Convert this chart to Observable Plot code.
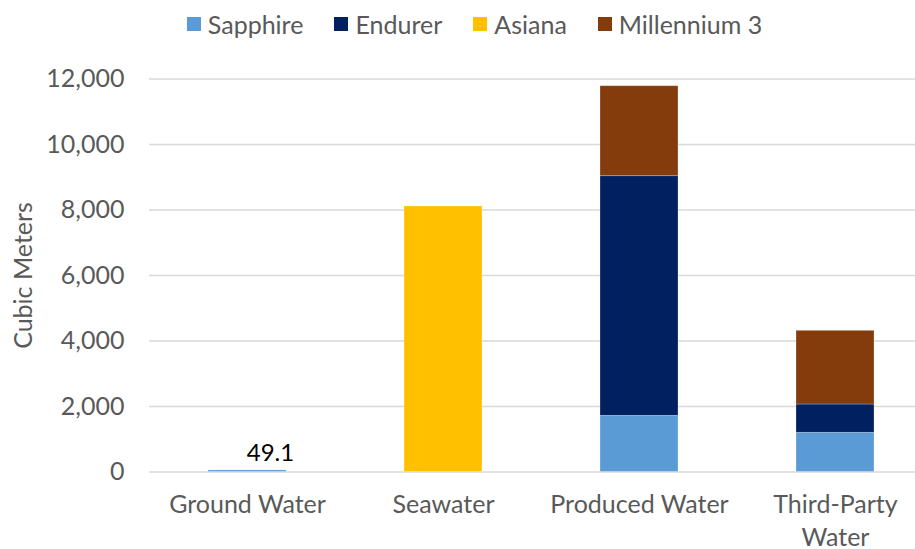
<!DOCTYPE html>
<html>
<head>
<meta charset="utf-8">
<script src="https://cdn.jsdelivr.net/npm/d3@7"></script>
<script src="https://cdn.jsdelivr.net/npm/@observablehq/plot@0.6"></script>
<style>
  body { margin: 0; background: #fff; font-family: Lato, "Open Sans", sans-serif; }
  #wrap { width: 915px; height: 549px; position: relative; overflow: hidden; }
  #legend { height: 48px; display: flex; align-items: center; justify-content: center;
            gap: 31px; padding-left: 34px; box-sizing: border-box; font-size: 25px; color: #595959; }
  #legend .item { display: flex; align-items: center; gap: 7px; }
  #legend .sw { width: 14px; height: 14px; display: inline-block; }
  svg { display: block; }
</style>
</head>
<body>
<div id="wrap">
  <div id="legend"></div>
  <div id="chart"></div>
</div>
<script>
// Water withdrawal by source, split by operating unit
const sources = ["Ground Water", "Seawater", "Produced Water", "Third-Party Water"];
const units = ["Sapphire", "Endurer", "Asiana", "Millennium 3"];
const unitColors = ["#5B9BD5", "#002060", "#FFC000", "#843C0C"];

// cubic meters, one array per unit, aligned with `sources`
const sapphire   = [49.1, 0, 1716, 1197];
const endurer    = [0, 0, 7316, 864];
const asiana     = [0, 8107, 0, 0];
const millennium = [0, 0, 2748, 2250];

const yTicks = [0, 2000, 4000, 6000, 8000, 10000, 12000];

const series = [sapphire, endurer, asiana, millennium];
const rows = [];
units.forEach((u, i) => {
  sources.forEach((s, j) => {
    if (series[i][j] > 0) rows.push({source: s, unit: u, value: series[i][j]});
  });
});

// labelled value on the small Ground Water bar
const labelled = [{source: "Ground Water", value: sapphire[0]}];

const legend = document.getElementById("legend");
units.forEach((u, i) => {
  const item = document.createElement("div");
  item.className = "item";
  item.innerHTML = `<span class="sw" style="background:${unitColors[i]}"></span><span>${u}</span>`;
  legend.appendChild(item);
});

const textColor = "#595959";

const chart = Plot.plot({
  width: 915,
  height: 501,
  marginTop: 30.5,
  marginBottom: 77.5,
  marginLeft: 149,
  marginRight: 0,
  style: {fontFamily: "Lato, 'Open Sans', sans-serif", fontSize: "25px", color: textColor, background: "#fff"},
  x: {domain: sources, range: [149, 934], paddingInner: 0.6, paddingOuter: 0.3, align: 0.5},
  y: {domain: [0, 12000]},
  color: {domain: units, range: unitColors},
  marks: [
    Plot.ruleY(yTicks, {stroke: "#D9D9D9", strokeWidth: 1.5}),
    Plot.barY(rows, Plot.stackY({
      x: "source", y: "value", fill: "unit", order: units,
      stroke: "#ffffff", strokeOpacity: 0.35, strokeWidth: 0.75
    })),
    Plot.text(labelled, {
      x: "source", y: "value", text: d => String(d.value),
      lineAnchor: "bottom", dy: -9, dx: 23, fill: "#000", fontSize: 24
    }),
    Plot.axisY({
      ticks: yTicks, tickSize: 0, tickPadding: 25, tickFormat: d3.format(","),
      fontSize: 25, fill: textColor,
      label: "Cubic Meters", labelAnchor: "center", labelArrow: "none", labelOffset: 135
    }),
    Plot.axisX({
      tickSize: 0, tickPadding: 18, fontSize: 25, fill: textColor, lineHeight: 1.3,
      tickFormat: d => d === "Third-Party Water" ? "Third-Party\nWater" : d,
      label: null
    })
  ]
});
document.getElementById("chart").appendChild(chart);
</script>
</body>
</html>
